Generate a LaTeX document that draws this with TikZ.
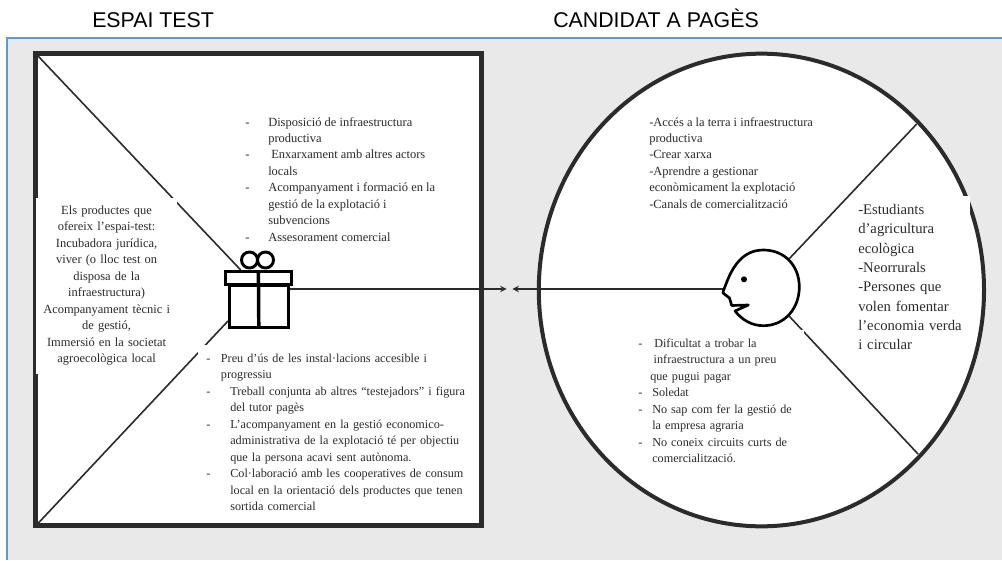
\documentclass[tikz,border=0pt]{standalone}
\usepackage{fontspec}
\setmainfont{Liberation Serif}
\newfontfamily\headfont{Liberation Sans}
\usepackage{xcolor}
\usetikzlibrary{shapes.geometric, arrows}
\definecolor{panelgray}{HTML}{E9E9E9}
\definecolor{panelblue}{HTML}{5B9BD5}
\definecolor{inkgray}{HTML}{2B2B2B}
\newcommand{\dashitem}[2]{\makebox[#1][l]{-}#2}
\newcommand{\dashgap}[1]{\hspace*{#1}}
\tikzset{
    heading/.style={anchor=base west, inner sep=0pt, font=\headfont\fontsize{16}{18}\selectfont},
    bodytext/.style={inner sep=0pt, text=inkgray, font=\fontsize{9.35}{12.35}\selectfont},
    lowertext/.style={inner sep=0pt, text=inkgray, font=\fontsize{9.15}{12.35}\selectfont},
    bigtext/.style={inner sep=0pt, text=inkgray, font=\fontsize{11}{14.5}\selectfont},
    frame/.style={draw=inkgray, fill=white, outer sep=0pt, inner sep=0pt},
    thinline/.style={draw=inkgray, line width=1.2pt},
    gift/.style={draw=black, fill=white, line width=2.2pt, outer sep=0pt, inner sep=0pt},
}
\begin{document}
\begin{tikzpicture}[x=.75pt, y=-.75pt]
    \useasboundingbox (0,0) rectangle (1002,560);
    \fill[panelgray] (7,38) rectangle (1002,560);
    \draw[panelblue, line width=1.6pt] (7,560) -- (7,38) -- (1002,38);

    \node[heading] (espaititle) at (92,27.5) {ESPAI TEST};
    \node[heading] (candidattitle) at (553,27.5) {CANDIDAT A PAGÈS};

    \node[frame, line width=3.75pt, minimum width=334.3pt, minimum height=354.2pt] (espai) at (258.6,289.7) {};
    \node[frame, ellipse, line width=3pt, minimum width=333.9pt, minimum height=354.5pt] (candidat) at (761.4,290) {};

    \coordinate (giftnw) at (240.7,270);
    \coordinate (giftsw) at (228,321);
    \coordinate (giftside) at (288,289);
    \coordinate (tipleft) at (506.7,289);
    \coordinate (tipright) at (512.3,289);
    \coordinate (nose) at (723.3,289);
    \coordinate (headup) at (789,259);
    \coordinate (headdown) at (789,316);
    \coordinate (rayup) at (916.7,124);
    \coordinate (raydown) at (918,454);

    \draw[thinline] (espai.north west) -- (giftnw);
    \draw[thinline] (espai.south west) -- (giftsw);
    \draw[thinline] (headup) -- (rayup);
    \draw[thinline] (headdown) -- (raydown);
    \draw[thinline, -stealth] (giftside) -- (tipleft);
    \draw[thinline, -stealth] (nose) -- (tipright);

    \node[bodytext, anchor=north west, align=left] (offerup) at (245,117) {%
        \dashitem{17.25pt}{Disposició de infraestructura}\\
        \dashgap{17.25pt}productiva\\
        \dashitem{19.5pt}{Enxarxament amb altres actors}\\
        \dashgap{17.25pt}locals\\
        \dashitem{17.25pt}{Acompanyament i formació en la}\\
        \dashgap{17.25pt}gestió de la explotació i\\
        \dashgap{17.25pt}subvencions\\
        \dashitem{17.25pt}{Assesorament comercial}};

    \node[bodytext, fill=white, align=center, text width=106pt, minimum height=132pt] (products) at (106.6,285.5) {%
        Els productes que\\
        ofereix l’espai-test:\\
        Incubadora jurídica,\\
        viver (o lloc test on\\
        disposa de la\\
        infraestructura)\\
        Acompanyament tècnic i\\
        de gestió,\\
        Immersió en la societat\\
        agroecològica local};

    \node[lowertext, fill=white, anchor=north west, align=left, text width=198pt, inner xsep=6pt, inner ysep=6.5pt] (offerdown) at (198,345) {%
        \dashitem{11pt}{Preu d’ús de les instal·lacions accesible i}\\
        \dashgap{11pt}progressiu\\
        \dashitem{18pt}{Treball conjunta ab altres “testejadors” i figura}\\
        \dashgap{18pt}del tutor pagès\\
        \dashitem{18pt}{L’acompanyament en la gestió economico-}\\
        \dashgap{18pt}administrativa de la explotació té per objectiu\\
        \dashgap{18pt}que la persona acavi sent autònoma.\\
        \dashitem{18pt}{Col·laboració amb les cooperatives de consum}\\
        \dashgap{18pt}local en la orientació dels productes que tenen\\
        \dashgap{18pt}sortida comercial};

    \node[bodytext, anchor=north west, align=left] (needs) at (649,117) {%
        -Accés a la terra i infraestructura\\
        productiva\\
        -Crear xarxa\\
        -Aprendre a gestionar\\
        econòmicament la explotació\\
        -Canals de comercialització};

    \node[lowertext, fill=white, anchor=north west, align=left, text width=123pt, inner xsep=1.5pt, inner ysep=6.5pt] (pains) at (636,330) {%
        \dashitem{12pt}{Dificultat a trobar la}\\
        \dashgap{11.6pt}infraestructura a un preu\\
        \dashgap{9pt}que pugui pagar\\
        \dashitem{10.5pt}{Soledat}\\
        \dashitem{10.5pt}{No sap com fer la gestió de}\\
        \dashgap{10.5pt}la empresa agraria\\
        \dashitem{10.5pt}{No coneix circuits curts de}\\
        \dashgap{10.5pt}comercialització.};

    \node[bigtext, fill=white, anchor=north west, align=left, text width=82pt, inner xsep=1.5pt, inner ysep=6pt, text depth=15.5pt] (profiles) at (856,196) {%
        -Estudiants\\
        d’agricultura\\
        ecològica\\
        -Neorrurals\\
        -Persones que\\
        volen fomentar\\
        l’economia verda\\
        i circular};

    % gift
    \node[gift, circle, fill=none, minimum size=12pt] (bowleft) at (249.5,260) {};
    \node[gift, circle, fill=none, minimum size=12pt] (bowright) at (265.5,260) {};
    \node[gift, minimum width=44.25pt, minimum height=31.5pt] (giftbody) at (258.8,306.5) {};
    \node[gift, minimum width=50pt, minimum height=9.75pt] (giftlid) at (258.4,278) {};
    \draw[black, line width=2.6pt] (giftlid.north) -- (giftbody.south);

    % face
    \draw[black, fill=white, line width=2pt, line join=round] (723.3,291) -- (726,284)
        .. controls (732,268) and (742,250) .. (763.3,250)
        .. controls (785,250) and (799.3,266) .. (799.3,287)
        .. controls (799.3,308) and (785,325.7) .. (763.3,325.7)
        .. controls (752,325.7) and (742,320) .. (735,311)
        -- (748.3,305) -- (731.7,305.5) -- (729.5,298) -- (723,293) -- cycle;
    \node[circle, fill=black, inner sep=0pt, minimum size=4.5pt] (eye) at (744,279.3) {};
\end{tikzpicture}
\end{document}
